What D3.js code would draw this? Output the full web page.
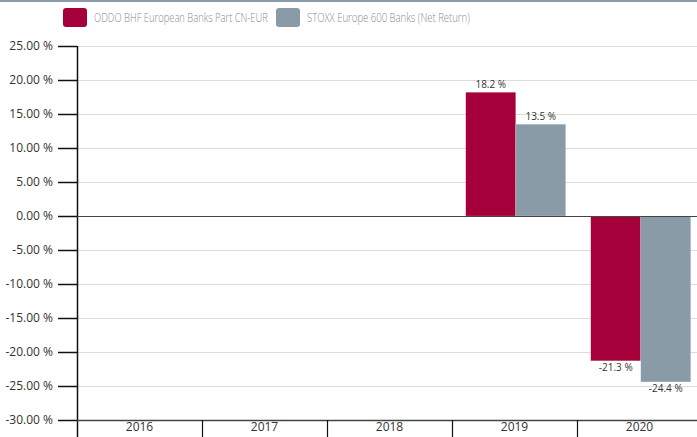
<!DOCTYPE html>
<html>
<head>
<meta charset="utf-8">
<script src="https://cdn.jsdelivr.net/npm/d3@7"></script>
<style>
  body { margin: 0; background: #fff; }
  svg { display: block; }
</style>
</head>
<body>
<div id="chart"></div>
<script>
var years = ["2016", "2017", "2018", "2019", "2020"];
var seriesNames = ["ODDO BHF European Banks Part CN-EUR", "STOXX Europe 600 Banks (Net Return)"];
var fundValues = [null, null, null, 18.2, -21.3];
var indexValues = [null, null, null, 13.5, -24.4];
var yTicks = [25, 20, 15, 10, 5, 0, -5, -10, -15, -20, -25, -30];
var colors = ["#a5003a", "#8a9ba8"];

var width = 697, height = 437;
var margin = {top: 46, right: -5, bottom: 17, left: 77};

var svg = d3.select("#chart").append("svg")
	.attr("width", width)
	.attr("height", height)
	.style("font-family", "'Open Sans', sans-serif");

// top border
svg.append("rect")
	.attr("x", 0).attr("y", 0)
	.attr("width", width).attr("height", 2)
	.attr("fill", "#8a9ba8");

// legend (condensed look: squeeze text horizontally to fit)
var legendItems = [
	{x: 63, name: seriesNames[0], color: colors[0], len: 174},
	{x: 276, name: seriesNames[1], color: colors[1], len: 163}
];
legendItems.forEach(function(d) {
	svg.append("rect")
		.attr("x", d.x).attr("y", 8)
		.attr("width", 24).attr("height", 19)
		.attr("rx", 3)
		.attr("fill", d.color);
	var lg = svg.append("g");
	var t = lg.append("text")
		.attr("font-size", "13px")
		.attr("font-weight", "300")
		.attr("fill", "#8a8a8a")
		.text(d.name);
	var w = t.node().getComputedTextLength();
	lg.attr("transform", "translate(" + (d.x + 31) + ",22) scale(" + (d.len / w) + ",1)");
});

var x = d3.scaleBand()
	.domain(years)
	.range([margin.left, width - margin.right]);

var x1 = d3.scaleBand()
	.domain([0, 1])
	.range([0, x.bandwidth()])
	.paddingOuter(0.25)
	.align(0.55);

var y = d3.scaleLinear()
	.domain([-30, 25])
	.range([height - margin.bottom, margin.top]);

function pct(v, digits) {
	return v.toFixed(digits) + " %";
}

// gridlines
svg.append("g")
	.selectAll("line")
	.data(yTicks.filter(function(t) { return t !== 0 && t !== -30; }))
	.enter().append("line")
		.attr("x1", margin.left).attr("x2", width)
		.attr("y1", d => y(d) + 0.5).attr("y2", d => y(d) + 0.5)
		.attr("stroke", "#dcdcdc");

// y axis
var yAxis = d3.axisLeft(y)
	.tickValues(yTicks)
	.tickSize(19)
	.tickPadding(5)
	.tickFormat(d => pct(d, 2));

var yG = svg.append("g")
	.attr("transform", "translate(" + margin.left + ",0)")
	.call(yAxis);
yG.select(".domain").remove();
yG.selectAll(".tick line").attr("stroke", "#111").attr("stroke-width", 1.5);
yG.selectAll("text")
	.attr("font-size", "12px")
	.attr("fill", "#333")
	.style("font-family", "'Open Sans', sans-serif");

svg.append("line")
	.attr("x1", margin.left + 0.5).attr("x2", margin.left + 0.5)
	.attr("y1", margin.top).attr("y2", height)
	.attr("stroke", "#111").attr("stroke-width", 1.5);

// bars
var data = years.map(function(yr, i) {
	return {year: yr, values: [fundValues[i], indexValues[i]]};
});

var groups = svg.append("g").selectAll("g")
	.data(data)
	.enter().append("g")
		.attr("transform", d => "translate(" + x(d.year) + ",0)");

groups.selectAll("rect")
	.data(d => d.values.map((v, k) => ({k: k, v: v})).filter(e => e.v !== null))
	.enter().append("rect")
		.attr("x", d => x1(d.k))
		.attr("width", x1.bandwidth())
		.attr("y", d => y(Math.max(0, d.v)))
		.attr("height", d => Math.abs(y(d.v) - y(0)))
		.attr("fill", d => colors[d.k])
		.attr("stroke", "#fff")
		.attr("stroke-opacity", 0.4)
		.attr("stroke-width", 0.5);

groups.selectAll("text")
	.data(d => d.values.map((v, k) => ({k: k, v: v})).filter(e => e.v !== null))
	.enter().append("text")
		.attr("x", d => x1(d.k) + x1.bandwidth() / 2)
		.attr("y", d => d.v >= 0 ? y(d.v) - 4 : y(d.v) + 10)
		.attr("text-anchor", "middle")
		.attr("font-size", "10px")
		.attr("fill", "#333")
		.text(d => pct(d.v, 1));

// zero line
svg.append("line")
	.attr("x1", margin.left).attr("x2", width)
	.attr("y1", y(0) + 0.5).attr("y2", y(0) + 0.5)
	.attr("stroke", "#444").attr("stroke-width", 1.2);

// x axis
var xAxis = d3.axisBottom(x).tickSize(0).tickPadding(2);
var xG = svg.append("g")
	.attr("transform", "translate(0," + y(-30) + ")")
	.call(xAxis);
xG.select(".domain").remove();
xG.selectAll("text")
	.attr("font-size", "12px")
	.attr("fill", "#333")
	.style("font-family", "'Open Sans', sans-serif");

svg.append("line")
	.attr("x1", margin.left).attr("x2", width)
	.attr("y1", y(-30) + 0.5).attr("y2", y(-30) + 0.5)
	.attr("stroke", "#444").attr("stroke-width", 1.5);

svg.append("g").selectAll("line")
	.data(years.slice(1))
	.enter().append("line")
		.attr("x1", d => x(d) + 0.5).attr("x2", d => x(d) + 0.5)
		.attr("y1", y(-30)).attr("y2", height)
		.attr("stroke", "#111").attr("stroke-width", 1.2);
</script>
</body>
</html>
